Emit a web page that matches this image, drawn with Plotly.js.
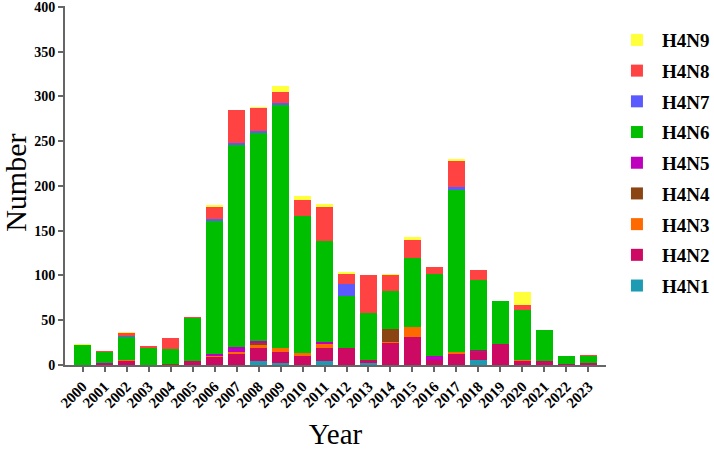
<!DOCTYPE html>
<html><head><meta charset="utf-8">
<script src="https://cdn.plot.ly/plotly-3.0.1.min.js"></script>
<style>html,body{margin:0;padding:0;background:#fff}#chart{width:714px;height:450px}</style>
</head><body><div id="chart"></div>
<script>
const years = ['2000','2001','2002','2003','2004','2005','2006','2007','2008','2009','2010','2011','2012','2013','2014','2015','2016','2017','2018','2019','2020','2021','2022','2023'];
const H4N1 = [0,0,0,0,0,0,0,0,4,2,0,4,0,2,0,0,0,0,6,0,0,0,0,0];
const H4N2 = [0,1,5,0,0,4,9,12,15,13,10,15,19,4,25,31,6,12,8,23,4,5,1,2];
const H4N3 = [0,0,1,0,0,1,1,3,3,4,3,4,0,0,1,11,0,2,1,1,2,0,0,0];
const H4N4 = [0,0,0,0,1,0,0,0,3,0,0,0,0,0,14,0,0,0,1,0,0,0,0,0];
const H4N5 = [0,1,0,0,0,0,2,5,2,0,0,3,0,0,0,1,4,0,1,0,0,0,0,0];
const H4N6 = [22,12,25,19,17,47,149,226,232,271,153,112,58,52,43,77,92,181,78,47,55,34,9,8];
const H4N7 = [0,0,1,0,0,0,2,2,2,3,0,1,14,0,0,0,0,4,0,0,0,0,0,0];
const H4N8 = [0,2,4,2,12,2,14,37,26,12,18,38,11,43,18,20,7,29,11,0,6,0,0,1];
const H4N9 = [1,0,1,0,0,0,2,0,1,7,5,3,2,0,1,3,0,2,0,0,15,0,0,0];
const yTicks = [0,50,100,150,200,250,300,350,400];

const series = [
  ['H4N1', H4N1, '#1C9BB3'],
  ['H4N2', H4N2, '#CC0A64'],
  ['H4N3', H4N3, '#FF6A00'],
  ['H4N4', H4N4, '#8B4513'],
  ['H4N5', H4N5, '#BE00BE'],
  ['H4N6', H4N6, '#00BE00'],
  ['H4N7', H4N7, '#5A5AFF'],
  ['H4N8', H4N8, '#FF4242'],
  ['H4N9', H4N9, '#FFFF3A']
];
const traces = series.map(([name, vals, color], i) => ({
  type: 'bar', name: name, x: years, y: vals, legendgroup: name,
  legendrank: series.length - i,
  marker: {color: color, line: {width: 0}}
}));
const serif = 'Liberation Serif, Times New Roman, serif';
const layout = {
  width: 714, height: 450,
  margin: {l: 65, r: 108, t: 6, b: 85, autoexpand: false},
  barmode: 'stack', bargap: 0.22,
  paper_bgcolor: '#fff', plot_bgcolor: '#fff',
  showlegend: true,
  legend: {
    x: 1.011, y: 0.958, xanchor: 'left', yanchor: 'top',
    traceorder: 'grouped', tracegroupgap: 3, itemwidth: 40,
    font: {family: serif, size: 19, color: '#000', weight: 'bold'},
    bgcolor: 'rgba(0,0,0,0)'
  },
  xaxis: {
    type: 'category', range: [-0.8, 23.8],
    showline: true, linecolor: '#666', linewidth: 2,
    ticks: 'outside', ticklen: 5, tickwidth: 2, tickcolor: '#666',
    tickangle: -45, showgrid: false, zeroline: false,
    tickfont: {family: serif, size: 15, color: '#000', weight: 'bold'},
    title: {text: 'Year', font: {family: serif, size: 29, color: '#000'}, standoff: 18}
  },
  yaxis: {
    range: [0, 401], tickvals: yTicks, ticklabeloverflow: 'allow',
    showline: true, linecolor: '#666', linewidth: 2,
    ticks: 'outside', ticklen: 5, tickwidth: 2, tickcolor: '#666',
    showgrid: false, zeroline: false,
    tickfont: {family: serif, size: 14, color: '#000', weight: 'bold'}
  },
  annotations: [{
    text: 'Number', xref: 'paper', yref: 'paper', x: -0.092, y: 0.508,
    xanchor: 'center', yanchor: 'middle', textangle: -90, showarrow: false,
    font: {family: serif, size: 30, color: '#000'}
  }]
};
Plotly.newPlot('chart', traces, layout, {displayModeBar: false, staticPlot: true});
</script></body></html>
